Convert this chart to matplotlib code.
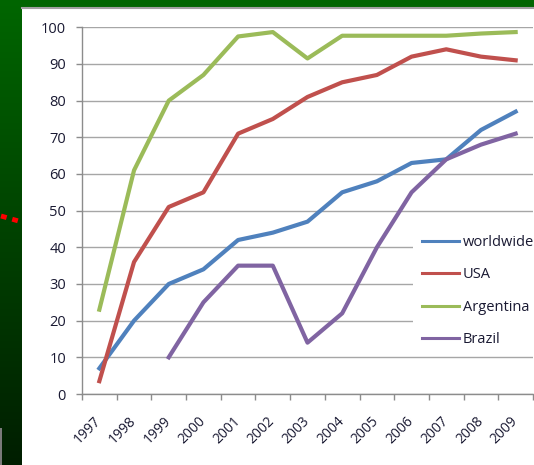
import numpy as np
import matplotlib
matplotlib.use("Agg")
import matplotlib.pyplot as plt
from matplotlib.lines import Line2D
from matplotlib.patches import Rectangle

# survey results per year
years = ['1997', '1998', '1999', '2000', '2001', '2002', '2003',
         '2004', '2005', '2006', '2007', '2008', '2009']
worldwide = [7, 20, 30, 34, 42, 44, 47, 55, 58, 63, 64, 72, 77]
usa = [3.5, 36, 51, 55, 71, 75, 81, 85, 87, 92, 94, 92, 91]
argentina = [23, 61, 80, 87, 97.5, 98.7, 91.5, 97.7, 97.7, 97.7, 97.7, 98.3, 98.7]
brazil = [np.nan, np.nan, 10, 25, 35, 35, 14, 22, 40, 55, 64, 68, 71]

series = [('worldwide', worldwide, '#4F81BD'),
          ('USA', usa, '#C0504D'),
          ('Argentina', argentina, '#9BBB59'),
          ('Brazil', brazil, '#8064A2')]

W, H = 534, 465
fig = plt.figure(figsize=(W / 100, H / 100), dpi=100)

# slide background: dark green gradient, white chart area on top
bg = fig.add_axes([0, 0, 1, 1], zorder=0)
bg.set_xlim(0, W)
bg.set_ylim(H, 0)
bg.axis('off')
grad = np.linspace(0, 1, 256).reshape(-1, 1)
top = np.array([0, 102, 0]) / 255
bottom = np.array([0, 30, 0]) / 255
img = top + (bottom - top) * grad[..., None]
bg.imshow(img, extent=(0, W, H, 0), aspect='auto')
bg.add_patch(Rectangle((22, 8), W - 22, H - 8, facecolor='white', edgecolor='none'))
bg.plot([22, W], [8.5, 8.5], color='#A0A0A0', lw=1.5)
bg.add_patch(Rectangle((0, 428), 1.5, H - 428, facecolor='#7A7A7A', edgecolor='none'))
bg.add_line(Line2D([1, 22], [216, 222], color='#FF0000', lw=3.5,
                   linestyle=(0, (1.2, 1.2))))

ax = fig.add_axes([82 / W, (H - 394) / H, (533 - 82) / W, (394 - 27.3) / H], zorder=1)
ax.set_facecolor('none')

x = np.arange(len(years))
for name, vals, col in series:
    ax.plot(x, vals, color=col, lw=3.0, label=name, solid_joinstyle='round')

ax.set_xlim(-0.5, len(years) - 0.5)
ax.set_ylim(0, 100)
ax.set_yticks(range(0, 101, 10))
ax.set_xticks(x)
ax.set_xticklabels(years, rotation=45, ha='right', va='center', rotation_mode='anchor')
ax.set_xticks(np.arange(-0.5, len(years)), minor=True)

ax.grid(axis='y', color='#A6A6A6', lw=1.0)
ax.set_axisbelow(True)
for s in ['top', 'right']:
    ax.spines[s].set_visible(False)
for s in ['left', 'bottom']:
    ax.spines[s].set_color('#8C8C8C')
    ax.spines[s].set_linewidth(1.0)

fnt = 'Open Sans'
ax.tick_params(axis='y', length=4.5, width=1.0, color='#8C8C8C', pad=7,
               labelsize=10.5, labelcolor='#1A1A33')
ax.tick_params(axis='x', which='major', length=0, pad=18,
               labelsize=10, labelcolor='#1A1A33')
ax.tick_params(axis='x', which='minor', length=4.5, width=1.0, color='#8C8C8C')
for lab in ax.get_xticklabels() + ax.get_yticklabels():
    lab.set_fontfamily(fnt)

leg = ax.legend(loc='upper left', bbox_to_anchor=(0.735, 0.458),
                frameon=True, fancybox=False, framealpha=1.0,
                prop={'family': fnt, 'size': 10.5}, handlelength=2.5,
                handletextpad=0.3, labelspacing=1.2, borderpad=0.6,
                borderaxespad=0)
leg.get_frame().set_facecolor('white')
leg.get_frame().set_edgecolor('none')
for t in leg.get_texts():
    t.set_color('#1A1A33')
for h in leg.legend_handles:
    h.set_linewidth(2.2)

fig.savefig('out.png', dpi=100)
